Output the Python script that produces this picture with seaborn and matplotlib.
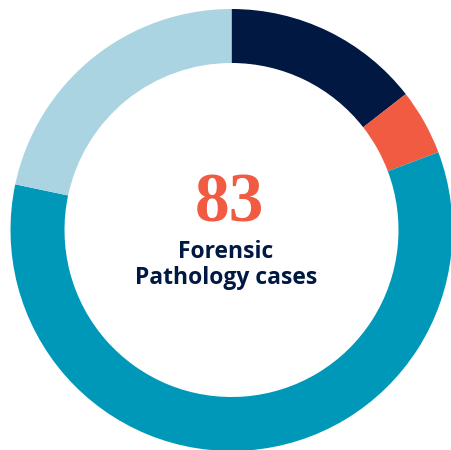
import matplotlib
matplotlib.use('Agg')
import matplotlib.pyplot as plt
import seaborn as sns

# Case counts per segment (clockwise from 12 o'clock)
segments = ['Segment A', 'Segment B', 'Segment C', 'Segment D']
cases = [12, 4, 49, 18]
colors = ['#001842', '#F15B42', '#0098B9', '#ABD4E2']
total_label = '83'
caption = 'Forensic\nPathology cases'

sns.set_theme(style='white')
plt.rcParams['font.family'] = ['DejaVu Sans']

fig = plt.figure(figsize=(4.51, 4.50), dpi=100)
ax = fig.add_axes([0, 0, 1, 1])

# Donut
ax.pie(cases, colors=colors, startangle=90, counterclock=False,
       radius=221, center=(231.5, 220),
       wedgeprops=dict(width=54, linewidth=0))
ax.set_xlim(0, 451)
ax.set_ylim(0, 450)
ax.set_aspect('equal')
ax.axis('off')

# Centre text
ax.text(229, 245, total_label, ha='center', va='center',
        fontsize=50, fontweight='bold', color='#F15B42',
        family=['Liberation Serif', 'DejaVu Serif'])
ax.text(226, 185, caption, ha='center', va='center', linespacing=1.15,
        fontsize=16.5, fontweight='bold', color='#001842',
        family=['Open Sans', 'DejaVu Sans'])

fig.savefig('out.png', dpi=100)
